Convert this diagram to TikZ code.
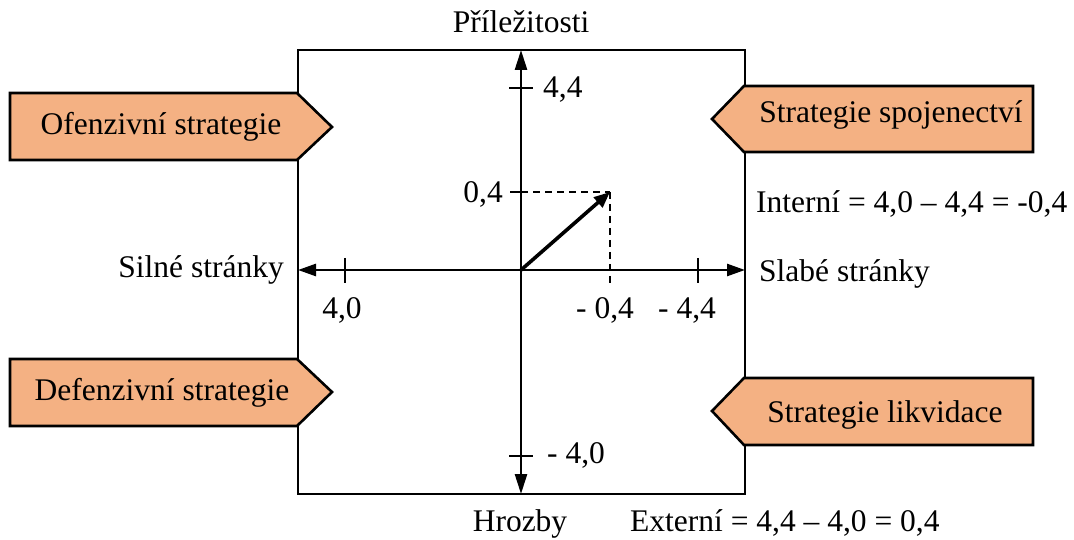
\documentclass[tikz,border=0pt]{standalone}
\usepackage{fontspec}
\setmainfont{Liberation Serif}
\usetikzlibrary{arrows.meta}
\definecolor{peach}{HTML}{F4B183}
\tikzset{
  lbl/.style={inner sep=0pt, font=\fontsize{31.5}{38}\selectfont},
  axis/.style={line width=2.6pt},
  stratshape/.style={draw=black, fill=peach, line width=2.6pt, line join=miter},
  tick/.style={line width=1.5pt},
  guide/.style={line width=2.4pt, dash pattern=on 7pt off 5pt},
}
\begin{document}
\begin{tikzpicture}[x=1pt,y=-1pt]
\useasboundingbox (0,0) rectangle (1074,540);
% square
\draw[axis] (298,50) rectangle (745,494);
% axis coordinates
\coordinate (top) at (521,50);
\coordinate (bot) at (521,494);
\coordinate (left) at (298,270);
\coordinate (right) at (745,270);
\coordinate (origin) at (521,270);
\coordinate (pt) at (610,192);
% axes
\draw[axis,{Triangle[width=12pt,length=20pt]}-{Triangle[width=12pt,length=20pt]}] (bot) -- (top);
\draw[axis,{Triangle[width=12pt,length=18pt]}-{Triangle[width=12pt,length=18pt]}] (left) -- (right);
% ticks
\draw[tick] (509,88) -- (533,88);
\draw[tick] (509,456) -- (533,456);
\draw[tick] (345,258) -- (345,283);
\draw[tick] (698,258) -- (698,283);
\draw[tick] (510,192) -- (521,192);
% dashed guides
\draw[guide] (521,192) -- (pt);
\draw[guide] (pt) -- (610,284);
% vector
\draw[line width=3.6pt,-{Triangle[width=13pt,length=16pt]}] (origin) -- (pt);
% strategy shapes
\draw[stratshape] (10,93) -- (297,93) -- (332,127) -- (297,160) -- (10,160) -- cycle;
\draw[stratshape] (712,119) -- (744,86) -- (1033,86) -- (1033,152) -- (744,152) -- cycle;
\draw[stratshape] (10,359) -- (297,359) -- (332,392) -- (297,426) -- (10,426) -- cycle;
\draw[stratshape] (712,411) -- (744,378) -- (1033,378) -- (1033,445) -- (744,445) -- cycle;
\node[lbl,anchor=base] (ofen) at (161,135) {Ofenzivní strategie};
\node[lbl,anchor=base] (spoj) at (891,123) {Strategie spojenectví};
\node[lbl,anchor=base] (defen) at (162,400) {Defenzivní strategie};
\node[lbl,anchor=base] (likv) at (885,422) {Strategie likvidace};
% labels
\node[lbl,anchor=base] (prilez) at (521,33) {Příležitosti};
\node[lbl,anchor=base] (hrozby) at (520,531) {Hrozby};
\node[lbl,anchor=base west] (ext) at (630,531) {Externí = 4,4 – 4,0 = 0,4};
\node[lbl,anchor=base west] (int) at (756,213) {Interní = 4,0 – 4,4 = -0,4};
\node[lbl,anchor=base east] (silne) at (284,277) {Silné stránky};
\node[lbl,anchor=base west] (slabe) at (759,282) {Slabé stránky};
\node[lbl,anchor=base west] (v44) at (543,98) {4,4};
\node[lbl,anchor=base east] (v04) at (503,203) {0,4};
\node[lbl,anchor=base west] (vm40) at (547,463) {- 4,0};
\node[lbl,anchor=base] (h40) at (342,318) {4,0};
\node[lbl,anchor=base] (hm04) at (605,318) {- 0,4};
\node[lbl,anchor=base] (hm44) at (687,318) {- 4,4};
\end{tikzpicture}
\end{document}
